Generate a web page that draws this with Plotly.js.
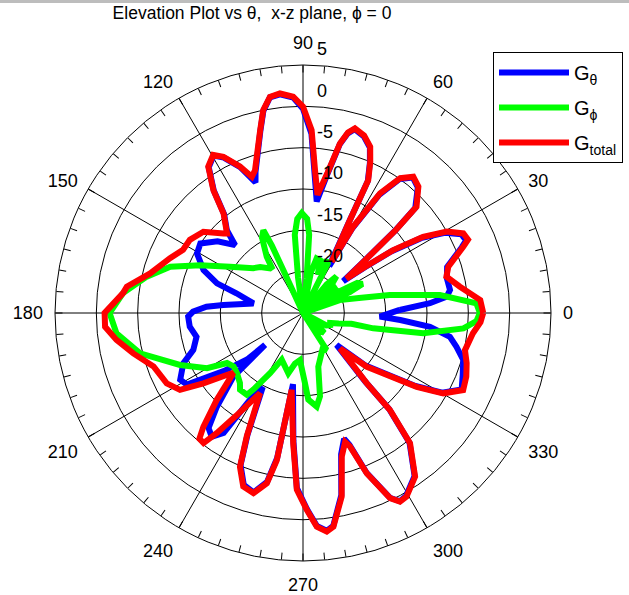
<!DOCTYPE html>
<html>
<head>
<meta charset="utf-8">
<script src="https://cdn.plot.ly/plotly-3.0.1.min.js"></script>
<style>html,body{margin:0;padding:0;background:#fff;}#chart{width:629px;height:595px;}</style>
</head>
<body>
<div id="chart"></div>
<script>
// ---- data (dB vs angle in degrees) ----
const thetaTotal = [0, 4.2, 9.5, 14.2, 17.7, 22.5, 24, 26.4, 29.5, 32.4, 34.9, 36.5, 38.4, 40.5, 41.8, 43.1, 47.6, 51, 54.2, 57.2, 59.8, 60.8, 63.2, 63.85, 66, 68, 71, 74.3, 76, 77.7, 80.1, 83, 85.2, 87.3, 90, 92.6, 96, 98.7, 101.1, 103.2, 108.6, 110.6, 113.3, 117, 119.6, 122.9, 126.1, 128.6, 133.7, 135, 140.8, 147.1, 152.2, 157.6, 165.5, 171.5, 173.7, 180, -176, -171.8, -166.6, -160.3, -152.7, -148, -144.8, -140.9, -139.3, -134.8, -131.2, -129.5, -127.4, -125.7, -123, -118.2, -114.5, -112.3, -109, -105.4, -102, -100.1, -98.4, -94.3, -92, -88.9, -86.3, -83.8, -81.9, -78.1, -74.9, -71.9, -70.6, -68.3, -64.8, -62.8, -60.6, -55.6, -50.6, -48.1, -47.8, -43.7, -40.1, -33, -29.8, -25.7, -21.3, -17, -12.9, -6.8, -3, 0];
const gainTotal = [-3.2, -3.5, -5.75, -7.1, -6.55, -4.0, -3.15, -3.35, -5.0, -7.8, -11.7, -15.5, -18.3, -14.7, -9.9, -6.2, -4.3, -3.8, -4.9, -7.8, -12.9, -17.9, -12.4, -7.1, -5.0, -3.3, -2.3, -1.8, -2.5, -4.0, -7.8, -10.6, -7.65, -2.85, -0.05, 1.2, 1.7, 1.45, 0, -2.3, -6.8, -7.4, -5.7, -3.8, -3.0, -3.9, -6.6, -9.6, -11.7, -11.4, -9.45, -8.7, -8.6, -7.6, -5.9, -3.45, -3.1, -1.0, -1.0, -2.2, -3.9, -5.8, -6.45, -7.45, -10.25, -13.1, -13.9, -10.2, -6.7, -5.3, -5.2, -7.1, -10.2, -14.0, -8.6, -4.9, -2.8, -2.4, -3.95, -6.9, -15.6, -9.2, -3.6, -1.2, 0.9, 1.6, 1.1, -2.3, -7.0, -8.6, -7.9, -4.1, -0.25, 0.66, 0.5, -1.0, -4.6, -9.25, -13.5, -18.8, -14.9, -8.6, -5.45, -3.5, -3.8, -4.3, -4.9, -4.3, -3.5, -3.2];

const thetaTheta = [1.8, 4.4, 6.5, 8.9, 13.6, 17.7, 22.5, 24, 26.4, 29.5, 32.4, 34.9, 36.5, 38.4, 40.5, 41.8, 43.1, 47.6, 51, 54.2, 57.2, 59.8, 60.8, 63.2, 63.85, 66, 68, 71, 74.3, 76, 77.7, 80.1, 83, 85.2, 87.3, 90, 92.6, 96, 98.7, 101.1, 103.2, 108.6, 110, 113.3, 117, 119.6, 122.9, 126.1, 128.6, 132.6, 135, 140, 145.9, 150.7, 156.7, 161, 163.5, 169, 174.3, 176.3, 179.3, -178.2, -173.1, -167.4, -161.4, -157.2, -151.5, -148.3, -143.8, -140.3, -139.9, -137.6, -132.6, -129.4, -126.4, -123.5, -121.4, -118.5, -114.5, -112.3, -109, -105.4, -102, -100.1, -98, -94.3, -92, -88.9, -86.3, -83.8, -81.9, -78.1, -74.9, -71.9, -70.6, -68.3, -64.8, -62.8, -60.6, -55.6, -50.6, -48.1, -47.8, -43.5, -40.1, -33, -29.8, -25.7, -21, -16.3, -12.4, -9.2, -6.2, -4.1, -2.7, 1.8];
const gainTheta = [-13.3, -9.6, -7.5, -7.0, -7.1, -6.7, -4.2, -3.4, -3.6, -5.3, -8.1, -12.0, -15.8, -18.8, -15.0, -10.1, -6.4, -4.4, -3.9, -5.0, -8.0, -13.2, -18.5, -12.6, -7.2, -5.1, -3.4, -2.4, -1.9, -2.6, -4.1, -8.0, -11.4, -8.2, -3.3, -0.3, 1.1, 1.6, 1.4, -0.1, -2.4, -7.0, -8.2, -5.8, -3.9, -3.1, -4.0, -6.7, -9.7, -11.4, -13.4, -11.5, -10.0, -10.3, -11.9, -14.0, -16.6, -18.9, -15.3, -13.3, -11.7, -11.1, -11.2, -11.8, -11.0, -9.3, -8.1, -8.5, -13.1, -16.2, -19.0, -13.6, -9.6, -7.0, -6.4, -7.6, -12.7, -14.8, -8.8, -5.1, -3.0, -2.5, -4.1, -7.2, -16.3, -9.5, -3.8, -1.3, 0.8, 1.5, 1.0, -2.5, -7.3, -9.0, -8.1, -4.2, -0.3, 0.6, 0.4, -1.1, -4.7, -9.4, -13.8, -19.4, -15.2, -8.8, -5.6, -3.7, -4.3, -4.8, -6.0, -7.0, -9.55, -13.2, -15.7, -13.3];

const thetaPhi = [0, 3.2, 7.5, 11.7, 15, 19.4, 21.5, 24, 26, 29, 32, 34.5, 37.5, 40, 42, 45, 47.6, 50.5, 53, 60, 63.5, 66, 69, 72, 76, 79, 81, 84, 85.5, 87.5, 90.7, 93.5, 96, 98, 100, 108, 114.6, 114.8, 115.6, 118.5, 122.8, 124.5, 126.4, 132.9, 138, 147.6, 155, 160.8, 166.9, 173.7, 180, -173.8, -166.1, -157.1, -150.1, -146.6, -142.4, -137.7, -132, -129.4, -124.5, -122.9, -118.7, -114.5, -103.7, -99, -93.7, -88.4, -86.5, -81.7, -78.5, -74.1, -62, -57.4, -54, -47, -43, -39, -35, -28, -24, -20, -16.5, -12.5, -12.3, -9.6, -5.5, -2.7, 0];
const gainPhi = [-3.6, -4.0, -8.3, -14.3, -18.0, -20.3, -25, -18.8, -17.0, -17.5, -21, -25, -19.8, -21.0, -25, -20.0, -19.0, -20.5, -25, -25, -18.3, -18.0, -20.0, -18.3, -18.2, -20.0, -25, -20.8, -15.5, -13.6, -12.9, -13.6, -15.5, -20.7, -25, -25, -19.3, -16.0, -13.9, -14.6, -16.9, -18.3, -18.3, -17.4, -16.9, -14.55, -11.3, -8.0, -5.6, -3.1, -1.6, -2.3, -4.7, -8.85, -11.6, -14.0, -14.4, -14.2, -13.6, -13.0, -13.0, -14.0, -16.7, -18.8, -17.5, -18.8, -19.3, -16.5, -14.5, -13.55, -14.7, -18.25, -20.0, -19.7, -25, -22.0, -21.5, -22.5, -25, -21.8, -21.4, -21.5, -20.5, -19.0, -16.3, -10.25, -5.5, -4.0, -3.6];

const radialTicks = [-20, -15, -10, -5, 0, 5];
const radialTickText = ['-20', '-15', '-10', '-5', '0', '5'];
const angleTicks = [0, 30, 60, 90, 120, 150, 180, 210, 240, 270, 300, 330];
const angleTickText = ['0', '30', '60', '90', '120', '150', '180', '210', '240', '270', '300', '330'];
const rMin = -25, rMax = 5;

// ---- geometry ----
const W = 629, H = 595, CX = 303, CY = 313, R = 248;
const labelShiftDb = 1.875;
const R2 = R * (rMax - rMin + 2 * labelShiftDb) / (rMax - rMin);
const dom = (c, rad, total) => [(c - rad) / total, (c + rad) / total];
const domX = dom(CX, R, W);
const domY = [(H - CY - R) / H, (H - CY + R) / H];
const domX2 = dom(CX, R2, W);
const domY2 = [(H - CY - R2) / H, (H - CY + R2) / H];

const minorTicks = [];
for (let a = 0; a < 360; a += 5) minorTicks.push(a);

const FONT = 'Liberation Sans, Arial, Helvetica, sans-serif';
const clip = arr => arr.map(v => Math.max(v, rMin));

const traces = [
  {type: 'scatterpolar', subplot: 'polar', mode: 'lines', name: 'G<sub>θ</sub>', legendgroup: 'a',
   theta: thetaTheta, r: clip(gainTheta), line: {color: '#0000ff', width: 6}},
  {type: 'scatterpolar', subplot: 'polar', mode: 'lines', name: 'G<sub>ϕ</sub>', legendgroup: 'b',
   theta: thetaPhi, r: clip(gainPhi), line: {color: '#00ff00', width: 6}},
  {type: 'scatterpolar', subplot: 'polar', mode: 'lines', name: 'G<sub>total</sub>', legendgroup: 'c',
   theta: thetaTotal, r: clip(gainTotal), line: {color: '#ff0000', width: 6}},
  {type: 'scatterpolar', subplot: 'polar2', r: [], theta: [], showlegend: false, hoverinfo: 'skip'},
  {type: 'scatterpolar', subplot: 'polar3', r: [], theta: [], showlegend: false, hoverinfo: 'skip'}
];

const layout = {
  width: W, height: H,
  margin: {l: 0, r: 0, t: 0, b: 0},
  paper_bgcolor: '#ffffff',
  font: {family: FONT, color: '#000000', size: 18},
  title: {text: 'Elevation Plot vs θ,\u00a0 x-z plane, ϕ = 0', font: {family: FONT, size: 17.5, color: '#000'},
          x: 252 / W, xanchor: 'center', y: 1 - 13 / H, yanchor: 'middle', xref: 'paper', yref: 'container'},
  showlegend: true,
  legend: {x: 493 / W, y: 1 - 52 / H, xanchor: 'left', yanchor: 'top', bgcolor: '#ffffff',
           bordercolor: '#000000', borderwidth: 1, font: {family: FONT, size: 20, color: '#000'},
           itemwidth: 70, tracegroupgap: 6, traceorder: 'grouped',
           entrywidth: 140, entrywidthmode: 'pixels'},
  polar: {
    domain: {x: domX, y: domY},
    bgcolor: '#ffffff',
    radialaxis: {range: [rMin, rMax], tickvals: radialTicks, showticklabels: false, ticks: '',
                 showline: false, showgrid: true, gridcolor: '#000000', gridwidth: 1, angle: 90, layer: 'below traces'},
    angularaxis: {rotation: 0, direction: 'counterclockwise', tickvals: angleTicks, ticktext: angleTickText,
                  ticks: 'outside', ticklen: 8, tickcolor: 'rgba(0,0,0,0)', showline: true, linecolor: '#000000', linewidth: 1,
                  showgrid: true, gridcolor: '#000000', gridwidth: 1, tickfont: {family: FONT, size: 18, color: '#000'},
                  layer: 'below traces'}
  },
  polar3: {
    domain: {x: domX, y: domY},
    bgcolor: 'rgba(0,0,0,0)',
    radialaxis: {visible: false, range: [rMin, rMax]},
    angularaxis: {rotation: 0, direction: 'counterclockwise', tickvals: minorTicks, showticklabels: false,
                  ticks: 'inside', ticklen: 7, tickcolor: '#000000', tickwidth: 1, showline: false, showgrid: false}
  },
  polar2: {
    domain: {x: domX2, y: domY2},
    bgcolor: 'rgba(0,0,0,0)',
    radialaxis: {range: [rMin - labelShiftDb, rMax + labelShiftDb], tickvals: radialTicks, ticktext: radialTickText,
                 angle: 90, tickangle: 90, side: 'clockwise', showline: false, showgrid: false,
                 ticks: 'outside', ticklen: 10, tickcolor: 'rgba(0,0,0,0)',
                 tickfont: {family: FONT, size: 18, color: '#000'}},
    angularaxis: {visible: false}
  },
  shapes: [
    {type: 'rect', xref: 'paper', yref: 'paper', x0: 0, x1: 1, y0: 1 - 3 / H, y1: 1,
     fillcolor: '#bdbdbd', line: {width: 0}, layer: 'above'}
  ]
};

Plotly.newPlot('chart', traces, layout, {displayModeBar: false, staticPlot: true});
</script>
</body>
</html>
